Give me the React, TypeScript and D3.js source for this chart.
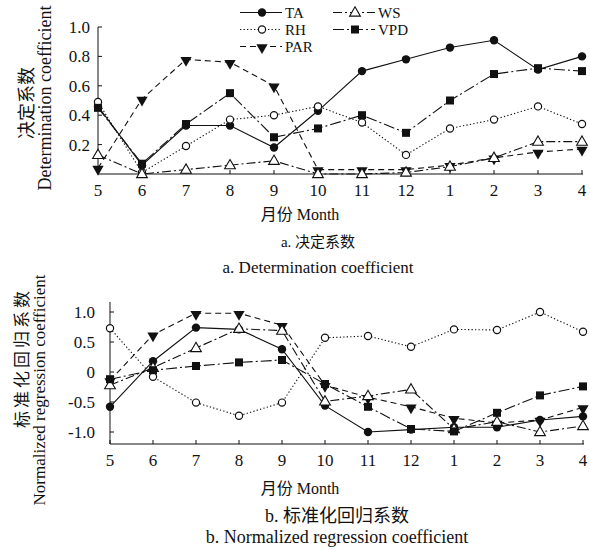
import React from "react";
import * as d3 from "d3";

const months = ["5", "6", "7", "8", "9", "10", "11", "12", "1", "2", "3", "4"];

// a. Determination coefficient
const detTA = [0.46, 0.06, 0.33, 0.33, 0.18, 0.43, 0.7, 0.78, 0.86, 0.91, 0.71, 0.8];
const detRH = [0.49, 0.01, 0.19, 0.37, 0.4, 0.46, 0.35, 0.13, 0.31, 0.37, 0.46, 0.34];
const detPAR = [0.04, 0.51, 0.78, 0.76, 0.6, 0.03, 0.03, 0.03, 0.06, 0.11, 0.15, 0.17];
const detWS = [0.13, 0.0, 0.03, 0.06, 0.09, 0.0, 0.0, 0.01, 0.05, 0.11, 0.22, 0.22];
const detVPD = [0.45, 0.07, 0.34, 0.55, 0.25, 0.31, 0.4, 0.28, 0.5, 0.68, 0.72, 0.7];

// b. Normalized regression coefficient
const regTA = [-0.58, 0.18, 0.74, 0.71, 0.38, -0.56, -1.0, -0.96, -0.92, -0.92, -0.8, -0.74];
const regRH = [0.73, -0.08, -0.51, -0.73, -0.51, 0.57, 0.6, 0.42, 0.71, 0.7, 1.0, 0.67];
const regPAR = [-0.14, 0.62, 0.98, 0.98, 0.78, -0.22, -0.42, -0.58, -0.77, -0.85, -0.8, -0.59];
const regWS = [-0.22, 0.07, 0.4, 0.72, 0.69, -0.49, -0.4, -0.29, -0.95, -0.83, -1.0, -0.9];
const regVPD = [-0.12, 0.03, 0.1, 0.16, 0.2, -0.2, -0.58, -0.95, -0.99, -0.68, -0.39, -0.24];

const detTicks = [0.2, 0.4, 0.6, 0.8, 1.0];
const detTickLabels = ["0.2", "0.4", "0.6", "0.8", "1.0"];
const regTicks = [1.0, 0.5, 0, -0.5, -1.0];
const regTickLabels = ["1.0", "0.5", "0", "-0.5", "-1.0"];

const seriesNames = ["TA", "RH", "PAR", "WS", "VPD"];

type Style = { dash: string; marker: "dot" | "ring" | "down" | "upOpen" | "square" };
const styles: Record<string, Style> = {
  TA: { dash: "none", marker: "dot" },
  RH: { dash: "1.3,2.2", marker: "ring" },
  PAR: { dash: "6,4", marker: "down" },
  WS: { dash: "9,3,2,3", marker: "upOpen" },
  VPD: { dash: "11,3,2,3", marker: "square" },
};

const SERIF = "'Liberation Serif', 'DejaVu Serif', serif";
const CJK = "'Noto Sans CJK SC', sans-serif";
const INK = "#111";

function Marker({ kind, x, y }: { kind: Style["marker"]; x: number; y: number }) {
  if (kind === "dot") return <circle cx={x} cy={y} r={4.2} fill={INK} />;
  if (kind === "ring") return <circle cx={x} cy={y} r={3.6} fill="#fff" stroke={INK} strokeWidth={1.2} />;
  if (kind === "square") return <rect x={x - 4} y={y - 4} width={8} height={8} fill={INK} />;
  if (kind === "down") {
    const p = d3.symbol(d3.symbolTriangle, 55)();
    return <path d={p || ""} transform={`translate(${x},${y + 1}) rotate(180)`} fill={INK} />;
  }
  const p = d3.symbol(d3.symbolTriangle, 50)();
  return <path d={p || ""} transform={`translate(${x},${y + 0.5})`} fill="#fff" stroke={INK} strokeWidth={1.1} />;
}

function Panel({
  data,
  x0,
  x1,
  yDomain,
  yRange,
  axisTop,
  ticks,
  tickLabels,
  labelGap,
}: {
  data: Record<string, number[]>;
  x0: number;
  x1: number;
  yDomain: [number, number];
  yRange: [number, number];
  axisTop: number;
  ticks: number[];
  tickLabels: string[];
  labelGap: number;
}) {
  const x = d3.scalePoint<string>().domain(months).range([x0, x1]);
  const y = d3.scaleLinear().domain(yDomain).range(yRange);
  const base = yRange[0];
  const line = d3
    .line<number>()
    .x((_, i) => x(months[i]) as number)
    .y((v) => y(v));
  return (
    <g>
      <line x1={x0} x2={x0} y1={axisTop} y2={base} stroke={INK} strokeWidth={1} />
      <line x1={x0} x2={x1 + 1} y1={base} y2={base} stroke={INK} strokeWidth={1} />
      {ticks.map((t, i) => (
        <g key={"yt" + i}>
          <line x1={x0} x2={x0 + 4} y1={y(t)} y2={y(t)} stroke={INK} />
          <text
            x={x0 - labelGap}
            y={y(t)}
            dy="0.35em"
            textAnchor="end"
            fontFamily={SERIF}
            fontSize={17}
            fill={INK}
          >
            {tickLabels[i]}
          </text>
        </g>
      ))}
      {months.map((m) => (
        <g key={"xt" + m}>
          <line x1={x(m)} x2={x(m)} y1={base} y2={base - 4} stroke={INK} />
          <text
            x={x(m) as number}
            y={base + 22}
            textAnchor="middle"
            fontFamily={SERIF}
            fontSize={17}
            fill={INK}
          >
            {m}
          </text>
        </g>
      ))}
      {seriesNames.map((s) => (
        <path
          key={"l" + s}
          d={line(data[s]) || ""}
          fill="none"
          stroke={INK}
          strokeWidth={1.1}
          strokeDasharray={styles[s].dash}
        />
      ))}
      {seriesNames.map((s) =>
        data[s].map((v, i) => (
          <Marker key={s + i} kind={styles[s].marker} x={x(months[i]) as number} y={y(v)} />
        ))
      )}
    </g>
  );
}

function LegendItem({ name, x, y }: { name: string; x: number; y: number }) {
  return (
    <g>
      <line x1={x} x2={x + 42} y1={y} y2={y} stroke={INK} strokeWidth={1.1} strokeDasharray={styles[name].dash} />
      <Marker kind={styles[name].marker} x={x + 22} y={y} />
      <text x={x + 45} y={y} dy="0.35em" fontFamily={SERIF} fontSize={15} fill={INK}>
        {name}
      </text>
    </g>
  );
}

export default function App() {
  const det: Record<string, number[]> = { TA: detTA, RH: detRH, PAR: detPAR, WS: detWS, VPD: detVPD };
  const reg: Record<string, number[]> = { TA: regTA, RH: regRH, PAR: regPAR, WS: regWS, VPD: regVPD };
  return (
    <svg
      width={590}
      height={549}
      style={{ position: "absolute", left: 0, top: 0, background: "#fff" }}
    >
      <rect width={590} height={549} fill="#fff" />
      <Panel
        data={det}
        x0={98}
        x1={582}
        yDomain={[0, 1]}
        yRange={[174, 27]}
        axisTop={27}
        ticks={detTicks}
        tickLabels={detTickLabels}
        labelGap={8}
      />
      <Panel
        data={reg}
        x0={110}
        x1={583}
        yDomain={[-1.2, 1.2]}
        yRange={[444, 300]}
        axisTop={302}
        ticks={regTicks}
        tickLabels={regTickLabels}
        labelGap={15}
      />
      <LegendItem name="TA" x={240} y={12.5} />
      <LegendItem name="RH" x={240} y={29.5} />
      <LegendItem name="PAR" x={240} y={46.5} />
      <LegendItem name="WS" x={333} y={12.5} />
      <LegendItem name="VPD" x={333} y={29.5} />

      <text transform="translate(33,103) rotate(-90)" textAnchor="middle" fontFamily={CJK} fontSize={18} fill={INK}>
        决定系数
      </text>
      <text transform="translate(51,98) rotate(-90)" textAnchor="middle" fontFamily={SERIF} fontSize={18} fill={INK}>
        Determination coefficient
      </text>
      <text
        transform="translate(28,358) rotate(-90)"
        textAnchor="middle"
        fontFamily={CJK}
        fontSize={17}
        letterSpacing={3}
        fill={INK}
      >
        标准化回归系数
      </text>
      <text transform="translate(45,390) rotate(-90)" textAnchor="middle" fontFamily={SERIF} fontSize={17} fill={INK}>
        Normalized regression coefficient
      </text>

      <text x={300} y={220} textAnchor="middle" fontSize={16} fill={INK}>
        <tspan fontFamily={CJK}>月份</tspan>
        <tspan fontFamily={SERIF}> Month</tspan>
      </text>
      <text x={318} y={247} textAnchor="middle" fontSize={15} fill={INK}>
        <tspan fontFamily={SERIF}>a. </tspan>
        <tspan fontFamily={CJK}>决定系数</tspan>
      </text>
      <text x={318} y={273} textAnchor="middle" fontFamily={SERIF} fontSize={17} fill={INK}>
        a. Determination coefficient
      </text>
      <text x={300} y={494} textAnchor="middle" fontSize={16} fill={INK}>
        <tspan fontFamily={CJK}>月份</tspan>
        <tspan fontFamily={SERIF}> Month</tspan>
      </text>
      <text x={337} y={522} textAnchor="middle" fontSize={18} fill={INK}>
        <tspan fontFamily={SERIF}>b. </tspan>
        <tspan fontFamily={CJK}>标准化回归系数</tspan>
      </text>
      <text x={337} y={543} textAnchor="middle" fontFamily={SERIF} fontSize={18} fill={INK}>
        b. Normalized regression coefficient
      </text>
    </svg>
  );
}
